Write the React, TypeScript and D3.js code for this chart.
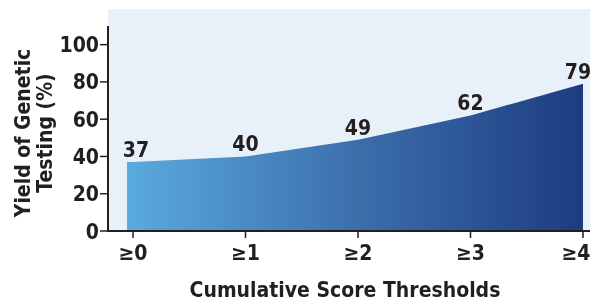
import React from 'react'
import * as d3 from 'd3'

// 累计评分阈值与基因检测阳性率
const thresholds = ['≥0', '≥1', '≥2', '≥3', '≥4']
const yieldPct = [37, 40, 49, 62, 79]
const yTicks = [0, 20, 40, 60, 80, 100]

const W = 590, H = 302
const FONT = '"DejaVu Sans Condensed", "Liberation Sans Narrow", "Open Sans", sans-serif'

const App = () => {
    const left = 108, bottom = 231, top = 26
    const x = d3.scalePoint<string>().domain(thresholds).range([133, 583])
    const y = d3.scaleLinear().domain([0, 110]).range([bottom, top])

    // left edge of the filled region sits slightly before the first tick
    const pts = yieldPct.map((v, i) => [x(thresholds[i]) ?? 0, y(v)] as [number, number])
    pts.unshift([127, y(yieldPct[0])])
    const pathD = d3.area<[number, number]>()
        .x(d => d[0]).y0(y(0)).y1(d => d[1])(pts) ?? ''

    const txt = { fontSize: 21, fontWeight: 'bold' as const, fill: '#231f20' }

    return (
        <svg width={W} height={H} style={{ position: 'fixed', left: 0, top: 0, fontFamily: FONT }}>
            <defs>
                <linearGradient id="fillGrad" x1="0" x2="1" y1="0" y2="0">
                    <stop offset="0%" stopColor="#5aaadf" />
                    <stop offset="50%" stopColor="#3c6fab" />
                    <stop offset="100%" stopColor="#1d3c80" />
                </linearGradient>
            </defs>
            <rect x={left} y={9} width={W - left} height={bottom - 9} fill="#e8f0f9" />
            <path d={pathD} fill="url(#fillGrad)" />

            {/* y axis */}
            <line x1={left} x2={left} y1={top} y2={bottom} stroke="#231f20" strokeWidth={2} />
            {yTicks.map(t => (
                <g key={t}>
                    <line x1={left - 8} x2={left} y1={y(t)} y2={y(t)} stroke="#231f20" strokeWidth={1.5} />
                    <text x={left - 9} y={y(t)} dy="0.36em" textAnchor="end" {...txt}>{t}</text>
                </g>
            ))}

            {/* x axis */}
            <line x1={left - 1} x2={W} y1={bottom} y2={bottom} stroke="#231f20" strokeWidth={2} />
            {thresholds.map((t, i) => (
                <g key={t}>
                    <line x1={x(t)} x2={x(t)} y1={bottom} y2={bottom + 7} stroke="#231f20" strokeWidth={1.5} />
                    <text x={(x(t) ?? 0) - (i === 4 ? 7 : 0)} y={260} textAnchor="middle" {...txt}>{t}</text>
                </g>
            ))}

            {/* value labels */}
            {yieldPct.map((v, i) => (
                <text key={i} x={(x(thresholds[i]) ?? 0) + (i === 0 ? 3 : i === 4 ? -5 : 0)} y={y(v) - 5}
                    textAnchor="middle" {...txt}>{v}</text>
            ))}

            {/* axis titles */}
            <text x={345} y={297} textAnchor="middle" {...txt}>Cumulative Score Thresholds</text>
            <text transform="translate(30,133) rotate(-90)" textAnchor="middle" {...txt}>
                <tspan x={0} dy={0}>Yield of Genetic</tspan>
                <tspan x={0} dy={22}>Testing (%)</tspan>
            </text>
        </svg>
    )
}

export default App
